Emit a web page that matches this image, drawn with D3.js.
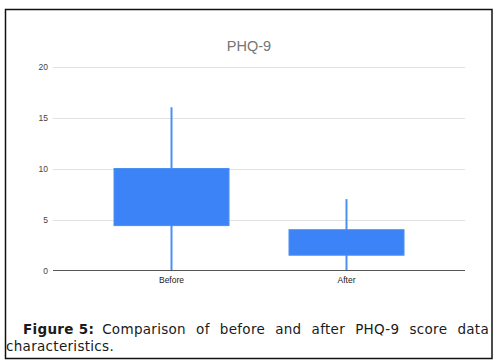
<!DOCTYPE html>
<html>
<head>
<meta charset="utf-8">
<script src="https://cdn.jsdelivr.net/npm/d3@7"></script>
<style>
  body { margin: 0; background: #fff; }
  svg { display: block; }
</style>
</head>
<body>
<svg id="chart" width="499" height="361"></svg>
<script>
// Data
const categories = ["Before", "After"];
const whiskerLow = [0, 0];
const boxLow = [4.4, 1.5];
const boxHigh = [10, 4];
const whiskerHigh = [16, 7];
const yTicks = [0, 5, 10, 15, 20];
const chartTitle = "PHQ-9";
const captionBold = "Figure 5:";
const captionLine1 = "Comparison of before and after PHQ-9 score data";
const captionLine2 = "characteristics.";

const svg = d3.select("#chart");

// outer frame
svg.append("rect")
  .attr("x", 5.5).attr("y", 9.5)
  .attr("width", 486.5).attr("height", 349)
  .attr("fill", "#fff")
  .attr("stroke", "#111")
  .attr("stroke-width", 1.5);

const plot = { left: 53, right: 465, top: 66.5, bottom: 270.5 };

const y = d3.scaleLinear().domain([0, 20]).range([plot.bottom, plot.top]);
const x = d3.scaleBand().domain(categories).range([84, 434]);

// title
svg.append("text")
  .attr("x", 249).attr("y", 51)
  .attr("text-anchor", "middle")
  .style("font-family", "Arial, 'Liberation Sans', sans-serif")
  .style("font-size", "14.5px")
  .attr("fill", "#757575")
  .text(chartTitle);

// gridlines
svg.append("g")
  .selectAll("line")
  .data(yTicks.filter((d) => d !== 0))
  .enter()
  .append("line")
  .attr("x1", plot.left).attr("x2", plot.right)
  .attr("y1", (d) => Math.round(y(d)) + 0.5)
  .attr("y2", (d) => Math.round(y(d)) + 0.5)
  .attr("stroke", "#e2e2e2")
  .attr("stroke-width", 1);

// y labels
svg.append("g")
  .selectAll("text")
  .data(yTicks)
  .enter()
  .append("text")
  .attr("x", 48)
  .attr("y", (d) => y(d) + 3)
  .attr("text-anchor", "end")
  .style("font-family", "Arial, 'Liberation Sans', sans-serif")
  .style("font-size", "8.5px")
  .attr("fill", "#444")
  .text((d) => d);

const boxes = categories.map((c, i) => ({
  c, lo: whiskerLow[i], q1: boxLow[i], q3: boxHigh[i], hi: whiskerHigh[i]
}));

const g = svg.append("g");
const boxW = 115;

// whiskers
g.selectAll(".whisker")
  .data(boxes)
  .enter()
  .append("line")
  .attr("class", "whisker")
  .attr("x1", (d) => x(d.c) + x.bandwidth() / 2)
  .attr("x2", (d) => x(d.c) + x.bandwidth() / 2)
  .attr("y1", (d) => y(d.lo))
  .attr("y2", (d) => y(d.hi))
  .attr("stroke", "#4a8ff2")
  .attr("stroke-width", 2);

// boxes
g.selectAll(".box")
  .data(boxes)
  .enter()
  .append("rect")
  .attr("class", "box")
  .attr("x", (d) => x(d.c) + x.bandwidth() / 2 - boxW / 2)
  .attr("width", boxW)
  .attr("y", (d) => y(d.q3))
  .attr("height", (d) => y(d.q1) - y(d.q3))
  .attr("fill", "#3b83f6")
  .attr("stroke", "#4a8ff2")
  .attr("stroke-width", 1);

// baseline
svg.append("line")
  .attr("x1", plot.left).attr("x2", plot.right)
  .attr("y1", plot.bottom).attr("y2", plot.bottom)
  .attr("stroke", "#555")
  .attr("stroke-width", 1);

// x labels
svg.append("g")
  .selectAll("text")
  .data(categories)
  .enter()
  .append("text")
  .attr("x", (d) => x(d) + x.bandwidth() / 2)
  .attr("y", 282.5)
  .attr("text-anchor", "middle")
  .style("font-family", "Arial, 'Liberation Sans', sans-serif")
  .style("font-size", "8.5px")
  .attr("fill", "#222")
  .text((d) => d);

// caption: bold label, then the rest of line 1 justified up to x=489
const capFont = "'DejaVu Sans', sans-serif";
const capStyle = (sel) => sel
  .style("font-family", capFont)
  .style("font-size", "13.5px")
  .style("letter-spacing", "0.3px")
  .attr("fill", "#1a1a1a");

const label = svg.append("text")
  .attr("x", 23)
  .attr("y", 334)
  .call(capStyle)
  .style("font-weight", "bold")
  .text(captionBold);

const restX = 23 + label.node().getComputedTextLength() + 8;
const rest = svg.append("text")
  .attr("x", restX)
  .attr("y", 334)
  .call(capStyle)
  .text(captionLine1);
const natural = rest.node().getComputedTextLength();
const spaces = captionLine1.split(" ").length - 1;
rest.style("word-spacing", ((489 - restX - natural) / spaces) + "px");

svg.append("text")
  .attr("x", 6)
  .attr("y", 351)
  .call(capStyle)
  .text(captionLine2);
</script>
</body>
</html>
